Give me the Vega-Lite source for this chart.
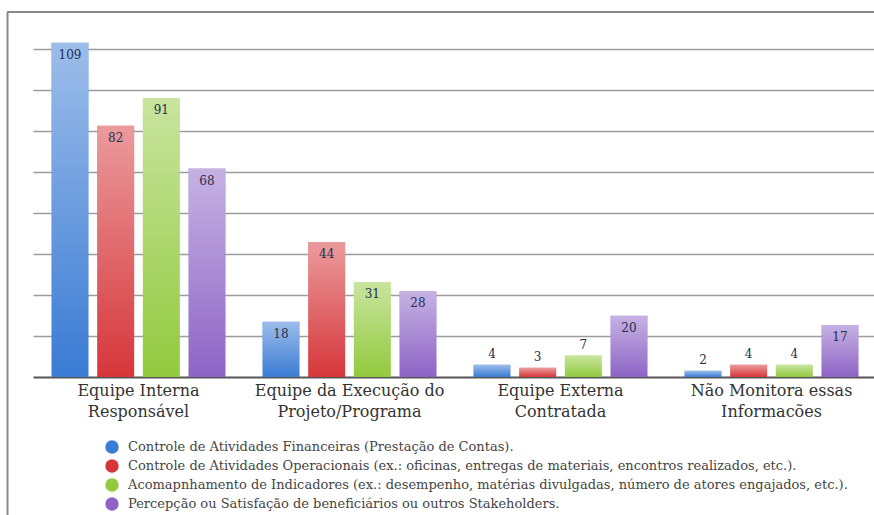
{
  "$schema": "https://vega.github.io/schema/vega-lite/v6.json",
  "width": 867,
  "height": 503,
  "autosize": "none",
  "padding": {"left": 7, "top": 12, "right": 0, "bottom": 0},
  "background": "white",
  "config": {
    "view": {"stroke": null},
    "font": "DejaVu Serif"
  },
  "data": {
    "values": [
      {"grupo": "Equipe Interna\nResponsável", "serie": "Controle de Atividades Financeiras (Prestação de Contas).", "valor": 109},
      {"grupo": "Equipe Interna\nResponsável", "serie": "Controle de Atividades Operacionais (ex.: oficinas, entregas de materiais, encontros realizados, etc.).", "valor": 82},
      {"grupo": "Equipe Interna\nResponsável", "serie": "Acomapnhamento de Indicadores (ex.: desempenho, matérias divulgadas, número de atores engajados, etc.).", "valor": 91},
      {"grupo": "Equipe Interna\nResponsável", "serie": "Percepção ou Satisfação de beneficiários ou outros Stakeholders.", "valor": 68},
      {"grupo": "Equipe da Execução do\nProjeto/Programa", "serie": "Controle de Atividades Financeiras (Prestação de Contas).", "valor": 18},
      {"grupo": "Equipe da Execução do\nProjeto/Programa", "serie": "Controle de Atividades Operacionais (ex.: oficinas, entregas de materiais, encontros realizados, etc.).", "valor": 44},
      {"grupo": "Equipe da Execução do\nProjeto/Programa", "serie": "Acomapnhamento de Indicadores (ex.: desempenho, matérias divulgadas, número de atores engajados, etc.).", "valor": 31},
      {"grupo": "Equipe da Execução do\nProjeto/Programa", "serie": "Percepção ou Satisfação de beneficiários ou outros Stakeholders.", "valor": 28},
      {"grupo": "Equipe Externa\nContratada", "serie": "Controle de Atividades Financeiras (Prestação de Contas).", "valor": 4},
      {"grupo": "Equipe Externa\nContratada", "serie": "Controle de Atividades Operacionais (ex.: oficinas, entregas de materiais, encontros realizados, etc.).", "valor": 3},
      {"grupo": "Equipe Externa\nContratada", "serie": "Acomapnhamento de Indicadores (ex.: desempenho, matérias divulgadas, número de atores engajados, etc.).", "valor": 7},
      {"grupo": "Equipe Externa\nContratada", "serie": "Percepção ou Satisfação de beneficiários ou outros Stakeholders.", "valor": 20},
      {"grupo": "Não Monitora essas\nInformacões", "serie": "Controle de Atividades Financeiras (Prestação de Contas).", "valor": 2},
      {"grupo": "Não Monitora essas\nInformacões", "serie": "Controle de Atividades Operacionais (ex.: oficinas, entregas de materiais, encontros realizados, etc.).", "valor": 4},
      {"grupo": "Não Monitora essas\nInformacões", "serie": "Acomapnhamento de Indicadores (ex.: desempenho, matérias divulgadas, número de atores engajados, etc.).", "valor": 4},
      {"grupo": "Não Monitora essas\nInformacões", "serie": "Percepção ou Satisfação de beneficiários ou outros Stakeholders.", "valor": 17}
    ]
  },
  "layer": [
    {
      "mark": {"type": "rule", "color": "#8a8a8a", "strokeWidth": 2},
      "encoding": {
        "y": {"datum": 119.07, "type": "quantitative"}
      }
    },
    {
      "encoding": {
        "x": {
          "field": "grupo", "type": "nominal", "sort": null,
          "scale": {"range": [26, 870], "paddingInner": 0, "paddingOuter": 0},
          "axis": {
            "title": null, "orient": "bottom", "offset": -138,
            "domain": true, "domainColor": "#555555", "domainWidth": 2,
            "ticks": false, "labelAngle": 0,
            "labelExpr": "split(datum.label, '\\n')",
            "labelFont": "DejaVu Serif", "labelFontSize": 16, "labelColor": "#333333",
            "labelLineHeight": 21, "labelPadding": 5, "labelLimit": 300
          }
        },
        "xOffset": {
          "field": "serie", "type": "nominal", "sort": null,
          "scale": {"paddingInner": 0.19, "paddingOuter": 0.405}
        },
        "y": {
          "field": "valor", "type": "quantitative",
          "scale": {"domain": [-45.02, 119.07], "nice": false, "zero": true},
          "axis": {
            "title": null, "labels": false, "ticks": false,
            "domain": true, "domainColor": "#8a8a8a", "domainWidth": 2,
            "grid": true, "gridColor": "#9c9c9c", "gridWidth": 1.6,
            "values": [13.375, 26.75, 40.125, 53.5, 66.875, 80.25, 93.625, 107]
          }
        }
      },
      "layer": [
        {
          "mark": {"type": "bar"},
          "encoding": {
            "color": {
              "field": "serie", "type": "nominal", "sort": null,
              "scale": {"range": ["#3a7bd4", "#d6363a", "#92ca3e", "#8d64c6"]},
              "legend": {
                "title": null, "orient": "none", "legendX": 98, "legendY": 428,
                "direction": "vertical", "symbolType": "circle", "symbolSize": 180,
                "symbolStrokeWidth": 0, "symbolOpacity": 1,
                "labelFont": "DejaVu Serif", "labelFontSize": 13, "labelColor": "#444444",
                "labelLimit": 900, "labelOffset": 9, "rowPadding": 5, "padding": 0
              }
            }
          }
        },
        {
          "mark": {
            "type": "bar",
            "color": {
              "gradient": "linear", "x1": 0, "y1": 0, "x2": 0, "y2": 1,
              "stops": [
                {"offset": 0, "color": "rgba(255,255,255,0.5)"},
                {"offset": 1, "color": "rgba(255,255,255,0)"}
              ]
            }
          },
          "encoding": {}
        },
        {
          "transform": [{"filter": "datum.valor >= 10"}],
          "mark": {"type": "text", "baseline": "top", "dy": 7, "font": "DejaVu Serif", "fontSize": 12, "color": "#23304f"},
          "encoding": {"text": {"field": "valor", "type": "quantitative"}}
        },
        {
          "transform": [{"filter": "datum.valor < 10"}],
          "mark": {"type": "text", "baseline": "bottom", "dy": -4, "font": "DejaVu Serif", "fontSize": 12, "color": "#23304f"},
          "encoding": {"text": {"field": "valor", "type": "quantitative"}}
        }
      ]
    }
  ]
}
